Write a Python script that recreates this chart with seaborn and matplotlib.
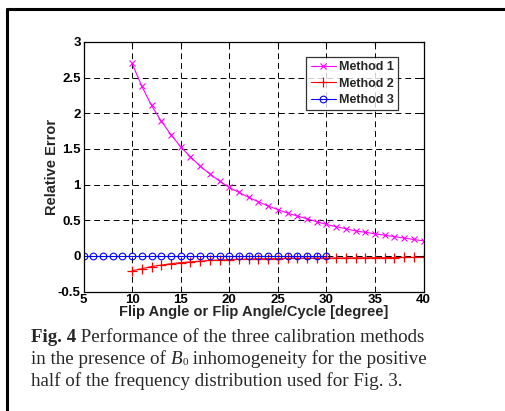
import numpy as np
import pandas as pd
import matplotlib
matplotlib.use("Agg")
import matplotlib.pyplot as plt
import seaborn as sns

# ---- data ----
x_m1 = list(range(10, 41))
y_m1 = [2.70, 2.38, 2.11, 1.89, 1.70, 1.53, 1.39, 1.26, 1.15, 1.05, 0.96,
        0.89, 0.82, 0.76, 0.70, 0.65, 0.60, 0.56, 0.52, 0.48, 0.44, 0.41,
        0.38, 0.35, 0.33, 0.31, 0.29, 0.27, 0.25, 0.23, 0.21]
x_m2 = list(range(10, 41))
y_m2 = [-0.21, -0.18, -0.15, -0.13, -0.11, -0.095, -0.085, -0.075, -0.065,
        -0.058, -0.052, -0.048, -0.045, -0.042, -0.040, -0.038, -0.036,
        -0.034, -0.033, -0.032, -0.031, -0.030, -0.029, -0.028, -0.027,
        -0.026, -0.025, -0.024, -0.023, -0.022, -0.021]
x_m3 = list(range(5, 31))
y_m3 = [0.0] * len(x_m3)
series_names = ["Method 1", "Method 2", "Method 3"]
xticks = [5, 10, 15, 20, 25, 30, 35, 40]
yticks = [-0.5, 0, 0.5, 1, 1.5, 2, 2.5, 3]
ytick_labels = ["-0.5", "0", "0.5", "1", "1.5", "2", "2.5", "3"]
xlabel = "Flip Angle or Flip Angle/Cycle [degree]"
ylabel = "Relative Error"

df1 = pd.DataFrame({"x": x_m1, "y": y_m1})
df2 = pd.DataFrame({"x": x_m2, "y": y_m2})
df3 = pd.DataFrame({"x": x_m3, "y": y_m3})

sns.set_style("white")
plt.rcParams["font.family"] = ["Liberation Sans", "DejaVu Sans"]

fig = plt.figure(figsize=(5.05, 4.11), dpi=100)
AX_L, AX_R, AX_T, AX_B = 83.5, 423.5, 42, 291.5
ax = fig.add_axes([AX_L / 505, 1 - AX_B / 411, (AX_R - AX_L) / 505,
                   (AX_B - AX_T) / 411])

sns.lineplot(data=df1, x="x", y="y", ax=ax, color="#ff00ff", lw=0.8,
             marker="x", markersize=4.5, markeredgewidth=0.8,
             markeredgecolor="#ff00ff", label=series_names[0])
sns.lineplot(data=df2, x="x", y="y", ax=ax, color="#ff0000", lw=0.8,
             marker="+", markersize=7, markeredgewidth=0.9,
             markeredgecolor="#ff0000", label=series_names[1])
sns.lineplot(data=df3, x="x", y="y", ax=ax, color="#0000ff", lw=0.8,
             marker="o", markersize=4.8, markeredgewidth=0.8,
             markerfacecolor="none", markeredgecolor="#0000ff",
             label=series_names[2])

ax.set_xlim(5, 40)
ax.set_ylim(-0.5, 3)
ax.set_xticks(xticks)
ax.set_xticklabels([str(t) for t in xticks])
ax.set_yticks(yticks)
ax.set_yticklabels(ytick_labels)
ax.grid(True, color="black", linestyle=(0, (6, 4)), linewidth=0.7)
ax.set_axisbelow(True)
for s in ax.spines.values():
    s.set_color("black")
    s.set_linewidth(0.9)
ax.tick_params(direction="in", length=3, width=0.8, top=True, right=True,
               labelsize=9.5, pad=2, colors="black")
for lab in ax.get_xticklabels() + ax.get_yticklabels():
    lab.set_fontweight("bold")
ax.set_xlabel(xlabel, fontsize=10.5, fontweight="bold", labelpad=-1)
ax.set_ylabel(ylabel, fontsize=10.5, fontweight="bold", labelpad=-1)

leg = ax.legend(loc="upper right",
                bbox_to_anchor=((398 - AX_L) / (AX_R - AX_L),
                                (AX_B - 57) / (AX_B - AX_T)),
                frameon=True, fancybox=False, edgecolor="black",
                prop={"weight": "bold", "size": 9}, handlelength=2.0,
                handletextpad=0.25, borderpad=0.35, labelspacing=0.35,
                borderaxespad=0)
leg.get_frame().set_linewidth(0.9)

# caption
serif = "Liberation Serif"
cap_size = 13.7
renderer = fig.canvas.get_renderer()

def put_run(parts, y_px):
    xpix = 31.0
    for txt, kw, dy in parts:
        t = fig.text(xpix / 505, 1 - (y_px + dy) / 411, txt,
                     family=serif, ha="left", va="baseline", **kw)
        bb = t.get_window_extent(renderer=renderer)
        xpix += bb.width

put_run([("Fig. 4", {"fontsize": cap_size, "fontweight": "bold"}, 0),
         (" Performance of the three calibration methods",
          {"fontsize": cap_size}, 0)], 342)
put_run([("in the presence of ", {"fontsize": cap_size}, 0),
         ("B", {"fontsize": cap_size, "style": "italic"}, 0),
         ("0", {"fontsize": cap_size * 0.6}, 1),
         (" inhomogeneity for the positive", {"fontsize": cap_size}, 0)], 364)
put_run([("half of the frequency distribution used for Fig. 3.",
          {"fontsize": cap_size}, 0)], 386)

# outer border (top and left)
fig.add_artist(plt.Line2D([7 / 505, 1.0], [1 - 9 / 411, 1 - 9 / 411],
                          transform=fig.transFigure, color="black", lw=2.2))
fig.add_artist(plt.Line2D([7 / 505, 7 / 505], [0, 1 - 9 / 411],
                          transform=fig.transFigure, color="black", lw=2.2))

fig.savefig("out.png", dpi=100)
